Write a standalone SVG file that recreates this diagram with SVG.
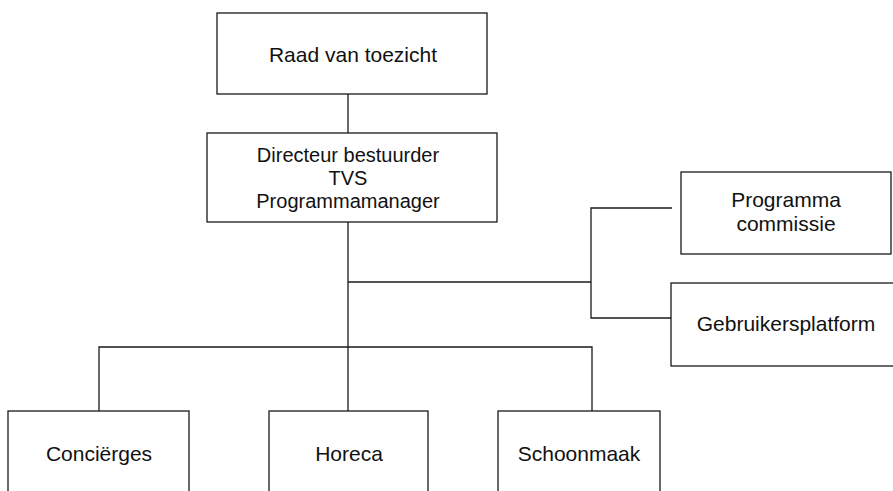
<svg xmlns="http://www.w3.org/2000/svg" width="893" height="491" viewBox="0 0 893 491">
<style>
.box{fill:#fff;stroke:#1a1a1a;stroke-width:1.3}
.ln{fill:none;stroke:#1a1a1a;stroke-width:1.3}
text{font-family:"Liberation Sans",Arial,sans-serif;font-size:21px;fill:#111;text-anchor:middle}
.m{font-size:20px}
</style>
<rect width="893" height="491" fill="#fff"/>
<g id="connectors">
<path class="ln" d="M348,94V133"/>
<path class="ln" d="M348,222V411"/>
<path class="ln" d="M348,282H591"/>
<path class="ln" d="M672,208H591V318H671"/>
<path class="ln" d="M99,411V347H592V411"/>
</g>
<g id="raad">
<rect class="box" x="217" y="13" width="270" height="81"/>
<text x="353" y="62">Raad van toezicht</text>
</g>
<g id="directeur">
<rect class="box" x="207" y="133" width="290" height="89"/>
<text class="m" x="348" y="162">Directeur bestuurder</text>
<text class="m" x="348" y="185">TVS</text>
<text class="m" x="348" y="208">Programmamanager</text>
</g>
<g id="programmacommissie">
<rect class="box" x="681" y="172" width="210" height="82"/>
<text x="786" y="207">Programma</text>
<text x="786" y="231">commissie</text>
</g>
<g id="gebruikersplatform">
<rect class="box" x="671" y="283" width="230" height="83"/>
<text x="786" y="331">Gebruikersplatform</text>
</g>
<g id="concierges">
<rect class="box" x="8" y="411" width="181" height="100"/>
<text x="99" y="461">Conciërges</text>
</g>
<g id="horeca">
<rect class="box" x="269" y="411" width="159" height="100"/>
<text x="349" y="461">Horeca</text>
</g>
<g id="schoonmaak">
<rect class="box" x="498" y="411" width="162" height="100"/>
<text x="579" y="461">Schoonmaak</text>
</g>
</svg>
